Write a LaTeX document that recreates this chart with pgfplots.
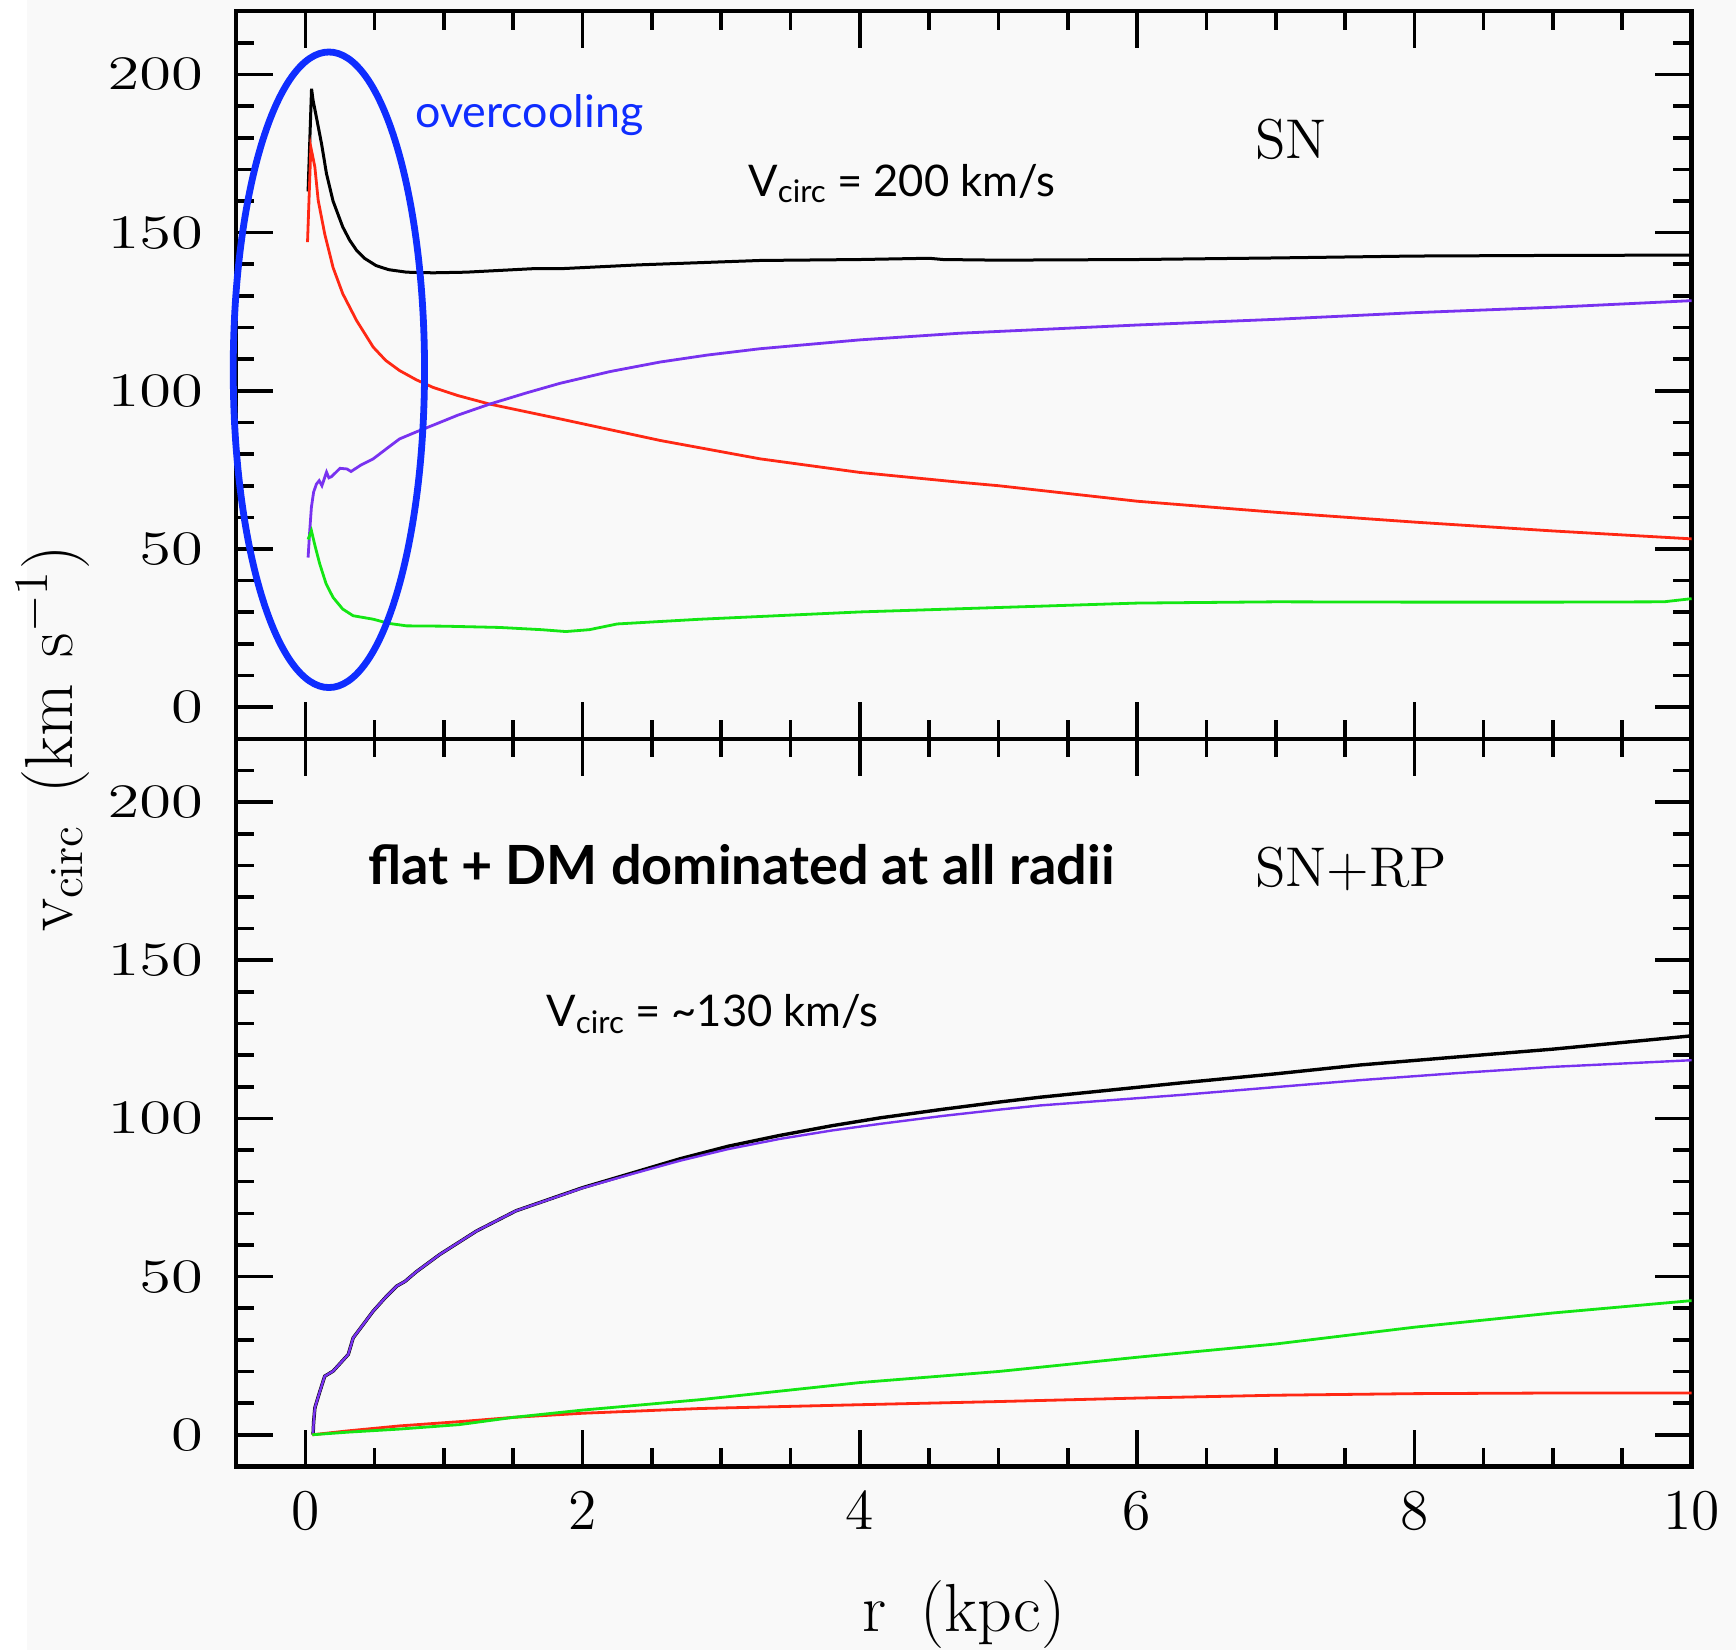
\documentclass[border=0pt]{standalone}
\usepackage{fontspec}
\usepackage{pgfplots}
\pgfplotsset{compat=1.18}
\usetikzlibrary{backgrounds}
\newfontfamily\gill{Lato}
\definecolor{cred}{RGB}{255,40,20}
\definecolor{cgreen}{RGB}{20,230,20}
\definecolor{cpurple}{RGB}{120,50,240}
\definecolor{cblue}{RGB}{15,45,255}
\definecolor{bg}{RGB}{249,249,249}
\tikzset{txt/.style={anchor=base west, inner sep=0pt}}
\pgfplotsset{
  panel/.style={
    scale only axis, width=363.9pt, height=181.9pt,
    xmin=-0.5, xmax=10, ymin=-10, ymax=220,
    xtick={0,2,...,10}, minor xtick={0.5,1,...,9.5},
    ytick={0,50,...,200}, minor ytick={10,20,...,210},
    major tick length=9.2pt, minor tick length=4.6pt,
    tick align=inside,
    every tick/.style={black, line width=0.9pt},
    every minor tick/.style={black, line width=0.9pt},
    axis line style={line width=1.1pt},
    yticklabel style={font=\fontsize{13}{13}\selectfont, xscale=1.35, xshift=-2.6pt},
    xticklabel style={font=\fontsize{15}{15}\selectfont, yshift=-3pt},
    clip=false,
  },
}
\begin{document}
\begin{tikzpicture}
% ---------------- top panel: SN ----------------
\begin{axis}[panel, at={(0,181.9pt)}, anchor=south west, xticklabels={},
  ylabel={$\mathrm{v_{circ}}$\hspace{0.45em}(km\hspace{0.4em}s$^{-1}$)},
  ylabel style={font=\fontsize{17}{17}\selectfont, inner sep=0pt, at={(axis description cs:-0.126,0)}, anchor=center}]
\addplot[black, line width=0.75pt] coordinates {
(0.02,163) (0.045,195.5) (0.056,191.8) (0.08,186.5) (0.117,178.1) (0.153,168.6) (0.2,160)
(0.24,155.3) (0.27,151.8) (0.32,147.6) (0.37,144.4) (0.43,141.8) (0.51,139.6) (0.6,138.3)
(0.73,137.5) (0.92,137.3) (1.16,137.5) (1.64,138.6) (1.84,138.6) (2.4,139.8) (3.28,141.2)
(4,141.5) (4.5,141.9) (4.6,141.5) (5,141.3) (6,141.5) (7,142) (8,142.6) (9,142.8) (10,142.9)};
\addplot[cred, line width=0.7pt] coordinates {
(0.016,147) (0.04,177) (0.069,170.7) (0.093,160.2) (0.14,149.6) (0.2,139) (0.27,130.7)
(0.37,122.2) (0.49,113.8) (0.58,109.6) (0.68,106.4) (0.8,103.5) (0.92,101.1) (1.1,98.5)
(1.33,95.8) (1.84,91.1) (2.56,84.3) (3.28,78.5) (4.0,74.2) (4.72,71.1) (5,70) (6,65.1)
(7,61.6) (8,58.5) (9,55.7) (10,53.2)};
\addplot[cpurple, line width=0.7pt] coordinates {
(0.02,47.3) (0.032,55.8) (0.044,63.2) (0.06,68) (0.08,70.5) (0.10,71.6) (0.12,70)
(0.153,74.3) (0.17,72.5) (0.19,72.9) (0.25,75.5) (0.30,75.3) (0.33,74.5) (0.40,76.5)
(0.49,78.5) (0.58,81.5) (0.68,84.8) (0.80,87) (0.92,89.1) (1.1,92.3) (1.33,95.8) (1.6,99.4)
(1.84,102.4) (2.2,106.1) (2.56,109.1) (2.9,111.3) (3.28,113.3) (4.0,116.1) (4.72,118.2)
(6,120.8) (7,122.6) (8,124.7) (9,126.4) (10,128.5)};
\addplot[cgreen, line width=0.7pt] coordinates {
(0.02,53) (0.044,55.8) (0.07,51) (0.104,45.3) (0.15,39) (0.2,34.7) (0.27,31) (0.345,28.9)
(0.49,27.8) (0.6,26.5) (0.73,25.7) (1.0,25.6) (1.4,25.2) (1.7,24.5) (1.88,23.9) (2.05,24.5)
(2.25,26.3) (2.85,27.8) (4,30.1) (5,31.5) (6,32.9) (7,33.3) (8,33.2) (9,33.2) (9.8,33.3) (10,34.3)};
\draw[cblue, line width=1.7pt] (axis cs:0.17,106.65) ellipse [x radius=0.69, y radius=100.45];
\node[txt, text=cblue, font=\gill\fontsize{11.2}{13}\selectfont] at (axis cs:0.79,183.2) {overcooling};
\node[txt, font=\gill\fontsize{10.9}{13}\selectfont] at (axis cs:3.19,161.5) {V\raisebox{-0.3ex}{\fontsize{7.8}{9}\selectfont circ} = 200 km/s};
\node[txt, font=\fontsize{14}{16}\selectfont] at (axis cs:6.845,173.4) {SN};
\end{axis}
% ---------------- bottom panel: SN+RP ----------------
\begin{axis}[panel, at={(0,0)}, anchor=south west,
  xlabel={r\hspace{0.5em}(kpc)},
  xlabel style={font=\fontsize{17}{17}\selectfont, inner sep=0pt, at={(axis description cs:0.5,0)}, anchor=center, yshift=-37pt}]
\addplot[black, line width=0.85pt] coordinates {
(0.056,0) (0.06,4) (0.069,8.5) (0.10,13) (0.14,18.5) (0.2,20.1) (0.25,22.5) (0.31,25.4)
(0.345,30.6) (0.42,35) (0.49,39.1) (0.58,43.5) (0.66,47) (0.72,48.5) (0.8,51.5) (0.97,57)
(1.235,64.4) (1.52,70.8) (2.0,78.1) (2.37,82.9) (2.70,87.2) (3.05,91.2) (3.42,94.6)
(3.8,97.7) (4.15,100.2) (4.6,102.9) (5.01,105.2) (5.30,106.7) (6.31,111.2) (7.0,114.1)
(7.61,116.9) (8.3,119.4) (9,121.9) (10,126.1)};
\addplot[cpurple, line width=0.6pt] coordinates {
(0.056,0) (0.06,4) (0.069,8.5) (0.10,13) (0.14,18.5) (0.2,20.1) (0.25,22.5) (0.31,25.4)
(0.345,30.6) (0.42,35) (0.49,39.1) (0.58,43.5) (0.66,47) (0.72,48.5) (0.8,51.5) (0.97,57)
(1.235,64.4) (1.52,70.8) (2.0,78.0) (2.37,82.6) (2.70,86.6) (3.05,90.3) (3.42,93.5)
(3.8,96.2) (4.15,98.3) (4.6,100.8) (5.01,102.8) (5.30,104.1) (6.31,107.4) (7.0,109.9)
(7.61,112.1) (8.3,114.3) (9,116.3) (10,118.4)};
\addplot[cred, line width=0.7pt] coordinates {
(0.05,0) (0.3,1.2) (0.68,2.8) (1.16,4.3) (1.5,5.5) (2.0,6.8) (2.85,8.3) (4,9.5) (5,10.5)
(6,11.6) (7,12.5) (8,13) (9,13.2) (10,13.2)};
\addplot[cgreen, line width=0.7pt] coordinates {
(0.05,0) (0.3,0.8) (0.68,1.8) (1.11,3.2) (1.5,5.5) (2.0,7.8) (2.85,11.1) (4,16.5) (5,20)
(6,24.5) (7,28.7) (8,34) (9,38.5) (10,42.4)};
\node[txt, font=\gill\bfseries\fontsize{13.5}{15}\selectfont] at (axis cs:0.447,174.1) {flat + DM dominated at all radii};
\node[txt, font=\fontsize{14}{16}\selectfont] at (axis cs:6.845,173.4) {SN+RP};
\node[txt, font=\gill\fontsize{10.9}{13}\selectfont] at (axis cs:1.733,128.9) {V\raisebox{-0.3ex}{\fontsize{7.8}{9}\selectfont circ} = \textasciitilde130 km/s};
\end{axis}
\begin{scope}[on background layer]
\fill[bg] (-52.3pt,-46pt) rectangle (375pt,366.6pt);
\end{scope}
\path (-59pt,-46pt) rectangle (375pt,366.6pt);
\end{tikzpicture}
\end{document}
